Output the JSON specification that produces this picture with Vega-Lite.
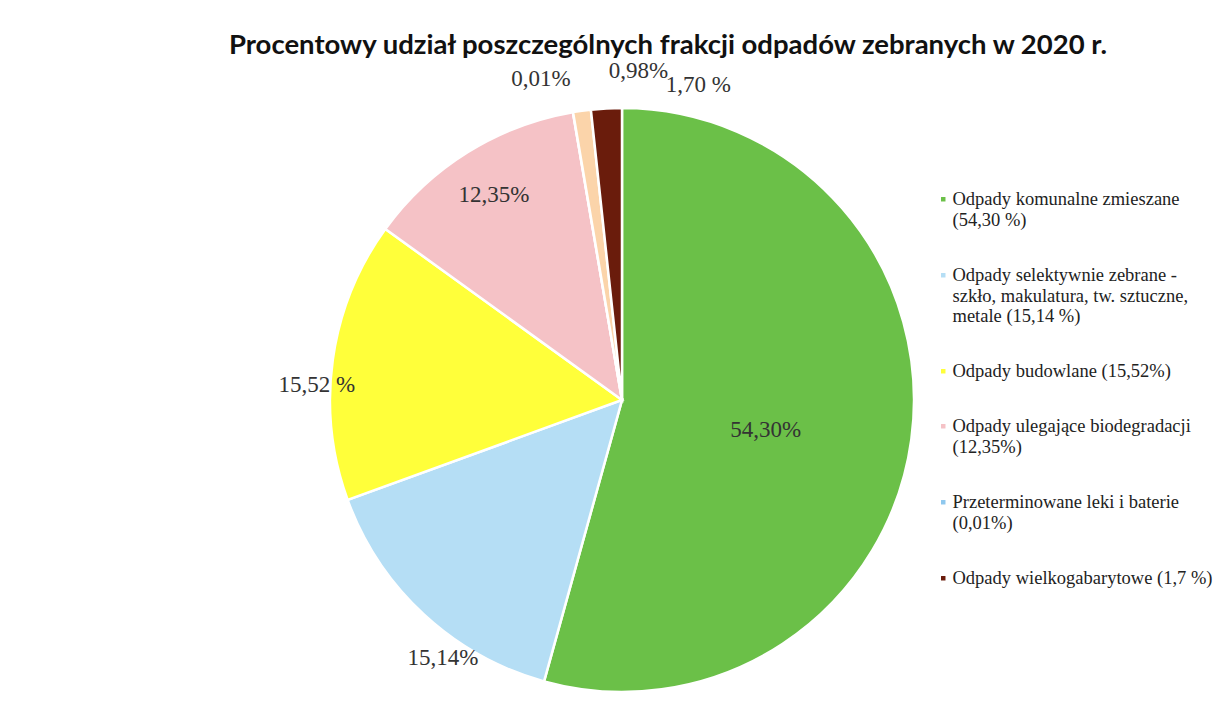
{
  "$schema": "https://vega.github.io/schema/vega-lite/v6.json",
  "width": 1204,
  "height": 650,
  "autosize": {"type": "none"},
  "padding": {"left": 20, "top": 75, "right": 0, "bottom": 0},
  "background": "#ffffff",
  "config": {"view": {"stroke": null}},
  "title": {
    "text": "Procentowy udział poszczególnych frakcji odpadów zebranych w 2020 r.",
    "font": "Lato",
    "fontSize": 27.5,
    "fontWeight": "bold",
    "color": "#111111",
    "anchor": "middle",
    "dx": 46,
    "offset": -2
  },
  "data": {
    "values": [
      {"ord": 1, "name": "Odpady komunalne zmieszane|(54,30 %)", "value": 54.30, "label": "54,30%"},
      {"ord": 2, "name": "Odpady selektywnie zebrane -|szkło, makulatura, tw. sztuczne,|metale  (15,14 %)", "value": 15.14, "label": "15,14%"},
      {"ord": 3, "name": "Odpady budowlane (15,52%)", "value": 15.52, "label": "15,52 %"},
      {"ord": 4, "name": "Odpady ulegające biodegradacji|(12,35%)", "value": 12.35, "label": "12,35%"},
      {"ord": 5, "name": "Przeterminowane leki i baterie|(0,01%)", "value": 0.01, "label": "0,01%"},
      {"ord": 6, "name": "Pozostałe (0,98%)", "value": 0.98, "label": "0,98%"},
      {"ord": 7, "name": "Odpady wielkogabarytowe (1,7 %)", "value": 1.70, "label": "1,70 %"}
    ]
  },
  "encoding": {
    "theta": {"field": "value", "type": "quantitative", "stack": true},
    "order": {"field": "ord", "type": "quantitative"}
  },
  "layer": [
    {
      "mark": {"type": "arc", "outerRadius": 292, "stroke": "#ffffff", "strokeWidth": 2.5},
      "encoding": {
        "color": {
          "field": "name",
          "type": "nominal",
          "scale": {
            "domain": [
              "Odpady komunalne zmieszane|(54,30 %)",
              "Odpady selektywnie zebrane -|szkło, makulatura, tw. sztuczne,|metale  (15,14 %)",
              "Odpady budowlane (15,52%)",
              "Odpady ulegające biodegradacji|(12,35%)",
              "Przeterminowane leki i baterie|(0,01%)",
              "Pozostałe (0,98%)",
              "Odpady wielkogabarytowe (1,7 %)"
            ],
            "range": ["#6bc048", "#b5def5", "#ffff3a", "#f5c2c6", "#8fc8ee", "#fbd4aa", "#6a1c0c"]
          },
          "legend": {
            "title": null,
            "orient": "none",
            "legendX": 914,
            "legendY": 115,
            "values": [
              "Odpady komunalne zmieszane|(54,30 %)",
              "Odpady selektywnie zebrane -|szkło, makulatura, tw. sztuczne,|metale  (15,14 %)",
              "Odpady budowlane (15,52%)",
              "Odpady ulegające biodegradacji|(12,35%)",
              "Przeterminowane leki i baterie|(0,01%)",
              "Odpady wielkogabarytowe (1,7 %)"
            ],
            "labelExpr": "split(datum.label, '|')",
            "symbolType": "square",
            "symbolSize": 20,
            "symbolStrokeWidth": 0,
            "labelFont": "Liberation Serif",
            "labelFontSize": 18.5,
            "labelColor": "#222222",
            "labelLimit": 400,
            "labelOffset": 0,
            "rowPadding": 36
          }
        }
      }
    },
    {
      "mark": {"type": "text", "radius": 145, "dy": 10, "font": "Liberation Serif", "fontSize": 23, "color": "#333333"},
      "encoding": {
        "text": {"field": "label"},
        "opacity": {"condition": {"test": "datum.ord == 1", "value": 1}, "value": 0}
      }
    },
    {
      "mark": {"type": "text", "radius": 314, "dx": 34, "dy": 27, "font": "Liberation Serif", "fontSize": 23, "color": "#333333"},
      "encoding": {
        "text": {"field": "label"},
        "opacity": {"condition": {"test": "datum.ord == 2", "value": 1}, "value": 0}
      }
    },
    {
      "mark": {"type": "text", "radius": 308, "dy": 27, "font": "Liberation Serif", "fontSize": 23, "color": "#333333"},
      "encoding": {
        "text": {"field": "label"},
        "opacity": {"condition": {"test": "datum.ord == 3", "value": 1}, "value": 0}
      }
    },
    {
      "mark": {"type": "text", "radius": 242, "font": "Liberation Serif", "fontSize": 23, "color": "#333333"},
      "encoding": {
        "text": {"field": "label"},
        "opacity": {"condition": {"test": "datum.ord == 4", "value": 1}, "value": 0}
      }
    },
    {
      "mark": {"type": "text", "radius": 310, "dx": -29, "dy": -15, "font": "Liberation Serif", "fontSize": 23, "color": "#333333"},
      "encoding": {
        "text": {"field": "label"},
        "opacity": {"condition": {"test": "datum.ord == 5", "value": 1}, "value": 0}
      }
    },
    {
      "mark": {"type": "text", "radius": 310, "dx": 59, "dy": -22, "font": "Liberation Serif", "fontSize": 23, "color": "#333333"},
      "encoding": {
        "text": {"field": "label"},
        "opacity": {"condition": {"test": "datum.ord == 6", "value": 1}, "value": 0}
      }
    },
    {
      "mark": {"type": "text", "radius": 310, "dx": 93, "dy": -5, "font": "Liberation Serif", "fontSize": 23, "color": "#333333"},
      "encoding": {
        "text": {"field": "label"},
        "opacity": {"condition": {"test": "datum.ord == 7", "value": 1}, "value": 0}
      }
    }
  ]
}
